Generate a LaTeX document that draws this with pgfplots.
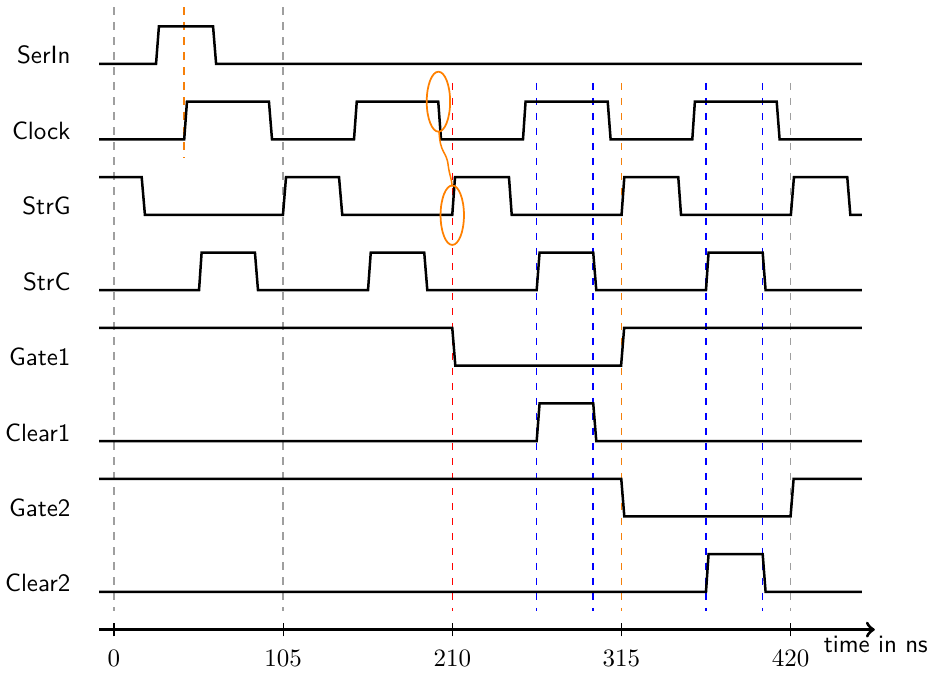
\documentclass[border=0pt]{standalone}
\usepackage{pgfplots}
\pgfplotsset{compat=1.18}
\begin{document}
\begin{tikzpicture}
\begin{axis}[
  x=0.6444pt, y=15.084pt,
  xmin=-9.2, xmax=472.3, ymin=-15, ymax=1.697,
  axis x line*=bottom, axis y line=none,
  x axis line style={line width=1.3pt, ->},
  xtick={0,105,210,315,420},
  xtick align=center, major tick length=5.4pt,
  xtick style={black, line width=0.5pt},
  xticklabel style={yshift=-1.9pt},
  ytick=\empty,
  clip=false,
  every axis plot/.append style={no markers},
]
% bounding box
\path (axis cs:-70.76,1.697) rectangle (axis cs:507.8,-15.964);

% reference lines
\addplot[gray!75, dashed, line width=0.6pt] coordinates {(0,1.5) (0,-14.5)};
\addplot[gray!75, dashed, line width=0.6pt] coordinates {(105,1.5) (105,-14.5)};
\addplot[orange!85!brown, dashed, line width=0.6pt] coordinates {(43.6,1.5) (43.6,-2.5)};
\addplot[red, dashed, line width=0.6pt] coordinates {(210.2,-0.5) (210.2,-14.5)};
\addplot[blue, dashed, line width=0.6pt] coordinates {(262.4,-0.5) (262.4,-14.5)};
\addplot[blue, dashed, line width=0.6pt] coordinates {(297.5,-0.5) (297.5,-14.5)};
\addplot[orange!85!brown, dashed, line width=0.6pt] coordinates {(314.9,-0.5) (314.9,-14.5)};
\addplot[blue, dashed, line width=0.6pt] coordinates {(367.5,-0.5) (367.5,-14.5)};
\addplot[blue, dashed, line width=0.6pt] coordinates {(402.7,-0.5) (402.7,-14.5)};
\addplot[gray!75, dashed, line width=0.6pt] coordinates {(420,-0.5) (420,-14.5)};

% SerIn
\addplot[black, line width=1pt] coordinates {(-9.2,0) (26.1,0) (27.9,1) (61.5,1) (63.4,0) (464.3,0)};
% Clock
\addplot[black, line width=1pt] coordinates {(-9.2,-2) (43.6,-2) (45.3,-1) (96.2,-1) (98.1,-2) (149.0,-2) (150.7,-1) (201.3,-1) (203.0,-2) (253.9,-2) (255.5,-1) (306.5,-1) (308.3,-2) (359.0,-2) (360.6,-1) (411.4,-1) (413.2,-2) (464.3,-2)};
% StrG
\addplot[black, line width=1pt] coordinates {(-9.2,-3) (17.2,-3) (19.2,-4) (104.9,-4) (106.8,-3) (139.7,-3) (141.7,-4) (210.0,-4) (211.7,-3) (245.2,-3) (246.9,-4) (315.1,-4) (316.8,-3) (350.3,-3) (352.0,-4) (420.2,-4) (422.1,-3) (455.2,-3) (457.1,-4) (464.3,-4)};
% StrC
\addplot[black, line width=1pt] coordinates {(-9.2,-6) (52.8,-6) (54.4,-5) (87.5,-5) (89.4,-6) (157.7,-6) (159.4,-5) (192.6,-5) (194.5,-6) (262.4,-6) (264.2,-5) (297.5,-5) (299.4,-6) (367.5,-6) (369.1,-5) (402.7,-5) (404.5,-6) (464.3,-6)};
% Gate1
\addplot[black, line width=1pt] coordinates {(-9.2,-7) (210.0,-7) (211.9,-8) (314.8,-8) (316.7,-7) (464.3,-7)};
% Clear1
\addplot[black, line width=1pt] coordinates {(-9.2,-10) (262.4,-10) (264.2,-9) (297.5,-9) (299.4,-10) (464.3,-10)};
% Gate2
\addplot[black, line width=1pt] coordinates {(-9.2,-11) (314.9,-11) (316.8,-12) (420.0,-12) (421.9,-11) (464.3,-11)};
% Clear2
\addplot[black, line width=1pt] coordinates {(-9.2,-14) (367.5,-14) (369.1,-13) (402.7,-13) (404.5,-14) (464.3,-14)};

% annotations
\draw[orange, line width=0.7pt] (axis cs:201.4,-1) ellipse [x radius=4.68pt, y radius=12pt];
\draw[orange, line width=0.7pt] (axis cs:210.0,-4.01) ellipse [x radius=4.68pt, y radius=11.9pt];
\draw[orange, line width=0.6pt] (axis cs:201.8,-1.8) .. controls (axis cs:202.5,-2.4) and (axis cs:206.5,-2.3) .. (axis cs:207.5,-2.7) .. controls (axis cs:208.5,-3.0) and (axis cs:209.5,-3.0) .. (axis cs:209.9,-3.25);

% signal labels
\begin{scope}[every node/.style={anchor=base east, inner sep=0pt, font=\sffamily}]
\node at (axis cs:-26.7,0) {SerIn};
\node at (axis cs:-26.7,-2) {Clock};
\node at (axis cs:-26.7,-4) {StrG};
\node at (axis cs:-26.7,-6) {StrC};
\node at (axis cs:-26.7,-8) {Gate1};
\node at (axis cs:-26.7,-10) {Clear1};
\node at (axis cs:-26.7,-12) {Gate2};
\node at (axis cs:-26.7,-14) {Clear2};
\end{scope}
\node[anchor=base west, inner sep=0pt, font=\sffamily] at (axis cs:440.3,-15.6) {time in ns};
\end{axis}
\end{tikzpicture}
\end{document}
